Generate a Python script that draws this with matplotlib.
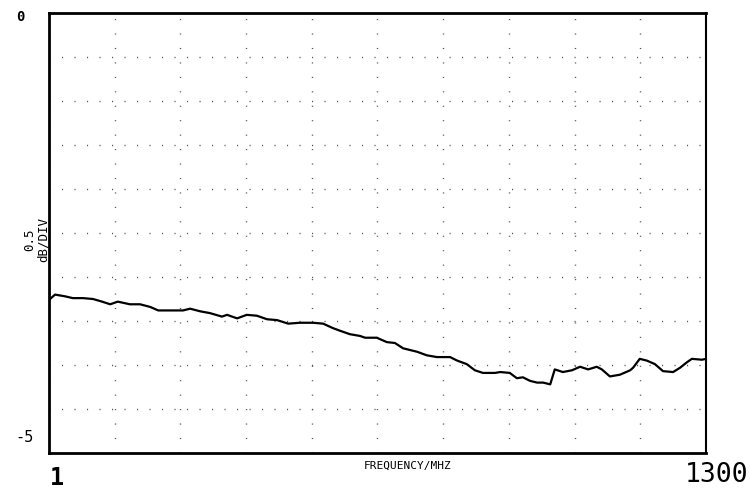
import numpy as np
import matplotlib.pyplot as plt

# trace
freq_mhz = [1, 13, 33, 48, 68, 88, 106, 122, 137, 161, 181, 201, 217, 246, 266, 280,
            300, 319, 343, 353, 373, 392, 412, 432, 452, 474, 497, 523, 543, 562, 576,
            596, 616, 626, 649, 669, 685, 701, 715, 729, 748, 768, 794, 808, 827, 843,
            859, 883, 893, 912, 926, 938, 952, 966, 978, 992, 1001, 1017, 1035, 1051,
            1067, 1084, 1094, 1110, 1130, 1150, 1156, 1169, 1183, 1199, 1215, 1235,
            1249, 1262, 1272, 1292, 1300]
level_db = [-3.26, -3.20, -3.22, -3.24, -3.24, -3.25, -3.28, -3.31, -3.28, -3.31, -3.31,
            -3.34, -3.38, -3.38, -3.38, -3.36, -3.39, -3.41, -3.45, -3.43, -3.47, -3.43,
            -3.44, -3.48, -3.49, -3.53, -3.52, -3.52, -3.53, -3.58, -3.61, -3.65, -3.67,
            -3.69, -3.69, -3.74, -3.75, -3.81, -3.83, -3.85, -3.89, -3.91, -3.91, -3.95,
            -3.99, -4.06, -4.09, -4.09, -4.08, -4.09, -4.15, -4.14, -4.18, -4.20, -4.20,
            -4.22, -4.05, -4.08, -4.06, -4.02, -4.05, -4.02, -4.05, -4.13, -4.11, -4.06,
            -4.03, -3.93, -3.95, -3.99, -4.07, -4.08, -4.03, -3.97, -3.93, -3.94, -3.93]

f_start, f_stop = 1, 1300
db_top, db_bottom = 0, -5

fig = plt.figure(figsize=(7.5, 4.91), dpi=100)
ax = fig.add_axes([49/750, 1 - 453/491, 657/750, 440/491])

ax.plot(freq_mhz, level_db, color='black', lw=1.6)

ax.set_xlim(f_start, f_stop)
ax.set_ylim(db_bottom, db_top)
ax.set_xticks(np.linspace(f_start, f_stop, 11))
ax.set_yticks(np.linspace(db_bottom, db_top, 11))
ax.tick_params(length=0, labelbottom=False, labelleft=False)
ax.xaxis.grid(True, color='#555555', lw=1.0, linestyle=(0, (0.8, 9.6)))
ax.yaxis.grid(True, color='#555555', lw=1.0, linestyle=(0, (0.8, 8.2)))

for side, w in [('left', 2.0), ('bottom', 2.0), ('top', 2.0), ('right', 1.5)]:
    ax.spines[side].set_linewidth(w)
    ax.spines[side].set_color('black')

mono = 'DejaVu Sans Mono'
fig.text(20/750, 1 - 17/491, '0', family=mono, fontsize=10, fontweight='bold',
         ha='center', va='center')
fig.text(24/750, 1 - 437/491, '-5', family=mono, fontsize=11,
         ha='center', va='center')
fig.text(57/750, 1 - 478/491, '1', family=mono, fontsize=17, fontweight='bold',
         ha='center', va='center')
fig.text(748/750, 1 - 475/491, '1300', family=mono, fontsize=19,
         ha='right', va='center')
fig.text(408/750, 1 - 466/491, 'FREQUENCY/MHZ', family=mono, fontsize=8,
         ha='center', va='center')
fig.text(30/750, 1 - 240/491, '0.5', family=mono, fontsize=9, rotation=90,
         ha='center', va='center')
fig.text(43/750, 1 - 240/491, 'dB/DIV', family=mono, fontsize=9, rotation=90,
         ha='center', va='center')

fig.savefig('out.png', dpi=100)
